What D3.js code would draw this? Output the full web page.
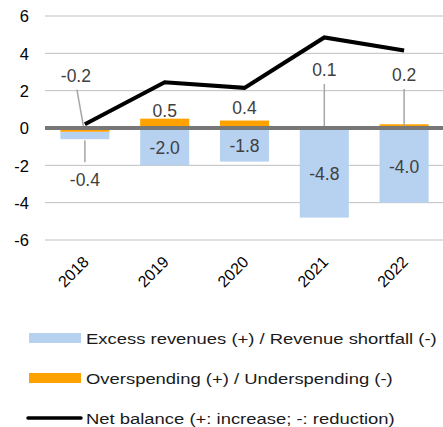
<!DOCTYPE html>
<html>
<head>
<meta charset="utf-8">
<script src="https://cdn.jsdelivr.net/npm/d3@7"></script>
<style>
  html, body { margin: 0; padding: 0; background: #fff; }
  svg { display: block; font-family: "Liberation Sans", Arial, sans-serif; }
</style>
</head>
<body>
<svg id="chart" width="443" height="427"></svg>
<script>
// ---- data ----
const years = ["2018", "2019", "2020", "2021", "2022"];
const revenues = [-0.4, -2.0, -1.8, -4.8, -4.0];      // Excess revenues (+) / Revenue shortfall (-)
const spending = [-0.2, 0.5, 0.4, 0.1, 0.2];          // Overspending (+) / Underspending (-)
const netBalance = [0.2, 2.45, 2.15, 4.85, 4.15];     // Net balance
const yTicks = [-6, -4, -2, 0, 2, 4, 6];
const seriesNames = [
  "Excess revenues (+) / Revenue shortfall (-)",
  "Overspending (+) / Underspending (-)",
  "Net balance (+: increase; -: reduction)"
];

// ---- layout / style ----
const BLUE = "#b6d2f0", ORANGE = "#ffa200", GRID = "#bfbfbf", ZERO = "#777777";
const LABEL = "#404040";
// label centre positions (in value units) for the spending labels
const spendLabelAt = [2.8, 0.92, 1.08, 3.1, 2.84];
const spendLeader = [true, false, false, true, true];
const spendLabelDx = [-9, 0, 0, 0, 0];

const svg = d3.select("#chart");
const x = d3.scaleBand().domain(years).range([45, 444]).paddingInner(0.385).paddingOuter(0.1925);
const y = d3.scaleLinear().domain([-6, 6]).range([240, 16]);
const cx = d => x(d) + x.bandwidth() / 2;
const fmt = v => d3.format(".1f")(v).replace("\u2212", "-");

// gridlines
svg.append("g").selectAll("line").data(yTicks.filter(t => t !== 0)).join("line")
  .attr("x1", 45).attr("x2", 443)
  .attr("y1", d => y(d)).attr("y2", d => y(d))
  .attr("stroke", GRID).attr("stroke-width", 1);

// y axis labels
const yAxis = d3.axisLeft(y).tickValues(yTicks).tickSize(0).tickPadding(0)
  .tickFormat(d => String(d));
const ya = svg.append("g").attr("transform", "translate(29,0)").call(yAxis);
ya.select(".domain").remove();
ya.selectAll("text").attr("font-size", 16.5).attr("fill", "#000")
  .attr("font-family", "Liberation Sans, Arial, sans-serif").attr("dy", "0.36em");

// stacked bars: spending first from 0, revenues stacked after on negative side
const rows = years.map((yr, i) => {
  const s = spending[i], r = revenues[i];
  const sb = [0, s];
  const rb = (s < 0) ? [s, s + r] : [0, r];
  return { yr, i, s, r, sb, rb };
});

svg.append("g").selectAll("rect").data(rows).join("rect")
  .attr("x", d => x(d.yr)).attr("width", x.bandwidth())
  .attr("y", d => y(Math.max(d.rb[0], d.rb[1])))
  .attr("height", d => Math.abs(y(d.rb[0]) - y(d.rb[1])))
  .attr("fill", BLUE);

svg.append("g").selectAll("rect").data(rows).join("rect")
  .attr("x", d => x(d.yr)).attr("width", x.bandwidth())
  .attr("y", d => y(Math.max(d.sb[0], d.sb[1])))
  .attr("height", d => Math.abs(y(d.sb[0]) - y(d.sb[1])))
  .attr("fill", ORANGE);

// leader lines
const leaders = svg.append("g").attr("stroke", "#a6a6a6").attr("stroke-width", 1.5);
rows.forEach(d => {
  if (spendLeader[d.i]) {
    leaders.append("line")
      .attr("x1", cx(d.yr) + spendLabelDx[d.i] + (d.i === 0 ? 1 : 0)).attr("y1", y(spendLabelAt[d.i]) + 14)
      .attr("x2", cx(d.yr) - (d.i === 0 ? 1.5 : 0)).attr("y2", y(0) - 2);
  }
});
// leader for the small revenue label (2018)
leaders.append("line").attr("x1", cx(years[0])).attr("x2", cx(years[0]))
  .attr("y1", y(rows[0].rb[1]) + 1).attr("y2", y(rows[0].rb[1]) + 23);

// zero line
svg.append("line").attr("x1", 45).attr("x2", 443).attr("y1", y(0)).attr("y2", y(0))
  .attr("stroke", ZERO).attr("stroke-width", 4);

// net balance line
svg.append("path").datum(netBalance)
  .attr("d", d3.line().x((d, i) => cx(years[i])).y(d => y(d)))
  .attr("fill", "none").attr("stroke", "#000").attr("stroke-width", 4);

// data labels
const lab = svg.append("g").attr("font-size", 17.5).attr("fill", LABEL).attr("text-anchor", "middle");
rows.forEach(d => {
  lab.append("text").attr("x", cx(d.yr) + spendLabelDx[d.i]).attr("y", y(spendLabelAt[d.i]))
    .attr("dy", "0.36em").text(fmt(d.s));
  const h = Math.abs(y(d.rb[0]) - y(d.rb[1]));
  if (h > 20) {
    lab.append("text").attr("x", cx(d.yr)).attr("y", (y(d.rb[0]) + y(d.rb[1])) / 2 + 1)
      .attr("dy", "0.36em").text(fmt(d.r));
  } else {
    lab.append("text").attr("x", cx(d.yr)).attr("y", y(d.rb[1]) + 40)
      .attr("dy", "0.36em").text(fmt(d.r));
  }
});

// x axis labels (rotated)
svg.append("g").selectAll("text").data(years).join("text")
  .attr("transform", d => `translate(${cx(d) + 5},263) rotate(-45)`)
  .attr("text-anchor", "end").attr("font-size", 16).attr("fill", "#000").text(d => d);

// legend
const lg = svg.append("g").attr("font-size", 15.5).attr("fill", "#1a1a1a");
const ly = [338, 378, 418];
lg.append("rect").attr("x", 29).attr("y", ly[0] - 5).attr("width", 52).attr("height", 10).attr("fill", BLUE);
lg.append("rect").attr("x", 29).attr("y", ly[1] - 5).attr("width", 52).attr("height", 10).attr("fill", ORANGE);
lg.append("line").attr("x1", 28).attr("x2", 81).attr("y1", ly[2]).attr("y2", ly[2])
  .attr("stroke", "#000").attr("stroke-width", 3.5).attr("stroke-linecap", "round");
seriesNames.forEach((n, i) => {
  lg.append("text").attr("transform", `translate(86,${ly[i]}) scale(1.19,1)`)
    .attr("dy", "0.36em").text(n);
});
</script>
</body>
</html>
